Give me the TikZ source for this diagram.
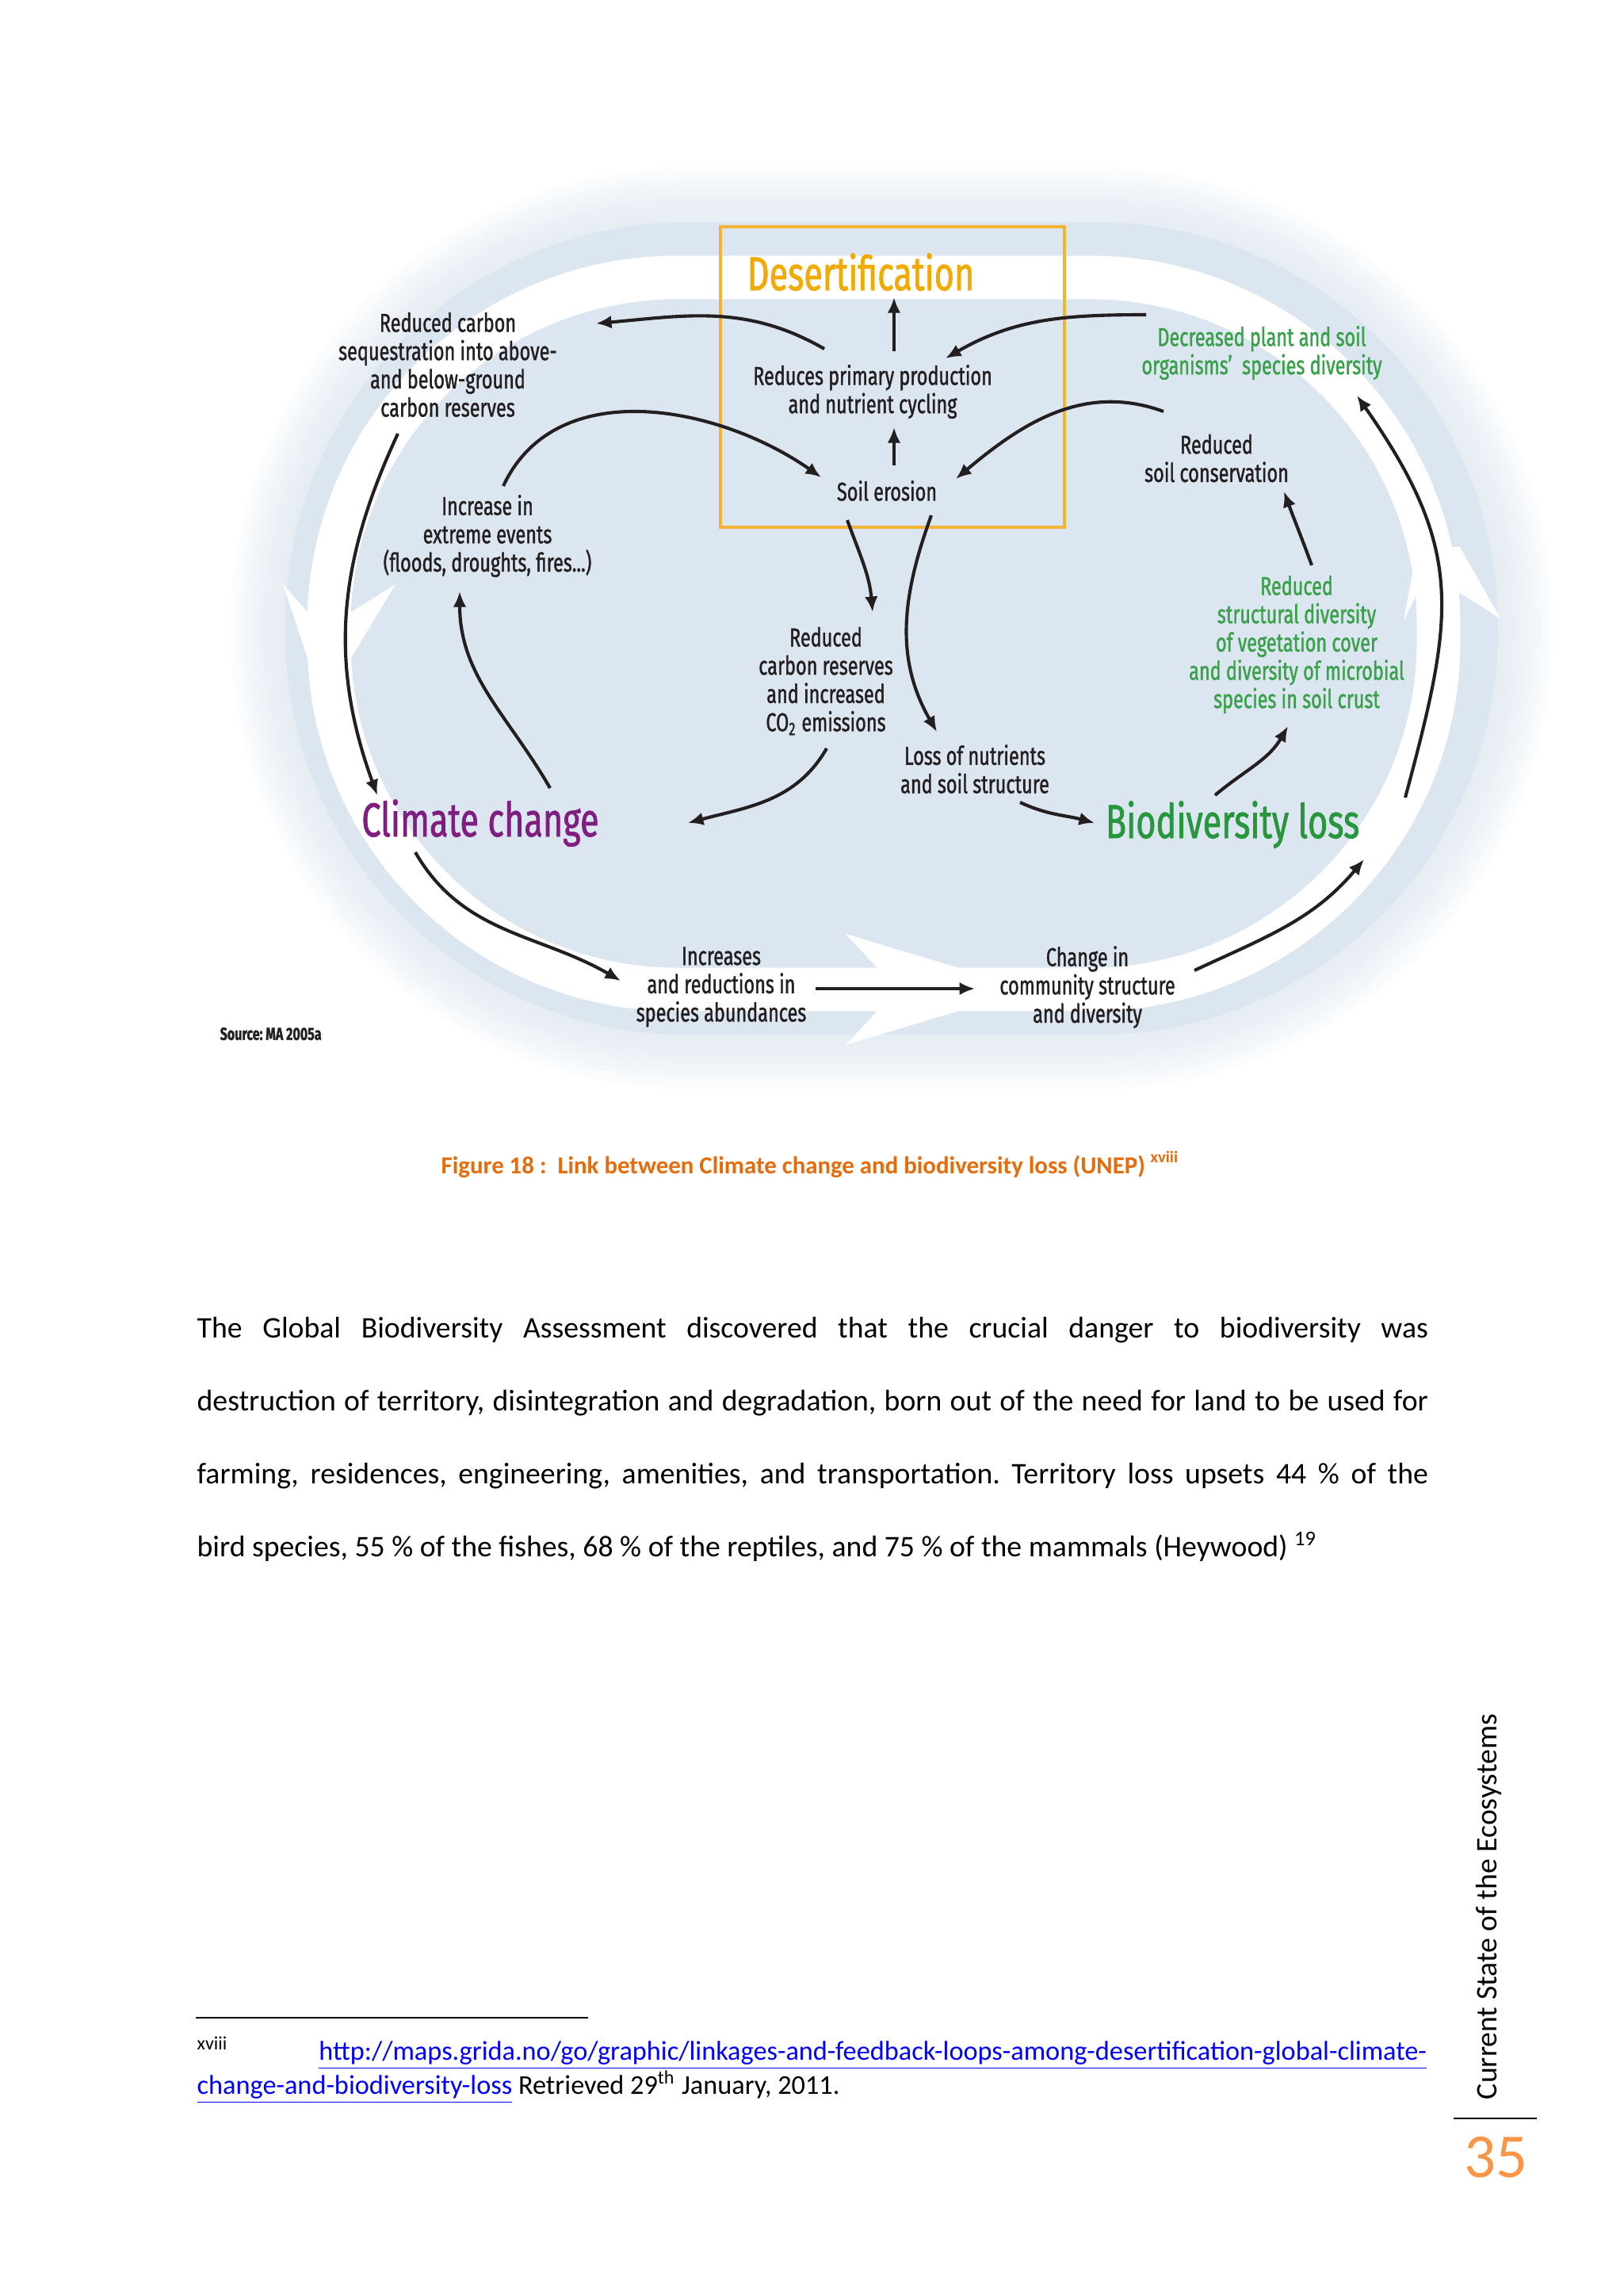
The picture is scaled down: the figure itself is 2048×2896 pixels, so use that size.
\documentclass[tikz,border=0pt]{standalone}
\usepackage{fontspec}
\setmainfont{Carlito}
\newfontfamily\figfont[FakeStretch=0.72,FakeBold=1.2]{Fira Sans}
\usetikzlibrary{calc,arrows.meta}
\frenchspacing

\definecolor{figink}{RGB}{35,31,32}
\definecolor{figgreen}{RGB}{58,160,75}
\definecolor{biogreen}{RGB}{40,150,60}
\definecolor{climpurple}{RGB}{128,30,128}
\definecolor{desertgold}{RGB}{240,170,0}
\definecolor{boxgold}{RGB}{242,180,50}
\definecolor{blobblue}{RGB}{220,230,241}
\definecolor{captionorange}{RGB}{228,108,10}
\definecolor{pageorange}{RGB}{247,150,70}
\definecolor{linkblue}{RGB}{0,0,255}

\tikzset{
  lbl/.style={font=\figfont\fontsize{9.5}{10.4}\selectfont, text=figink, align=center, inner sep=0pt},
  greenlbl/.style={lbl, text=figgreen},
  bigname/.style={font=\figfont\fontsize{17.5}{20}\selectfont, inner sep=0pt},
  arr/.style={-{Latex[length=2mm,width=1.7mm]}, line width=1.2pt, figink},
  band/.style={white, line width=16pt},
  chevron/.style={fill=white, draw=none},
  bodyline/.style={font=\fontsize{11}{13}\selectfont, anchor=base west, inner sep=0pt},
}

\begin{document}
\begin{tikzpicture}[x=0.1025mm, y=0.1025mm]
    \fill[white] (0,0) rectangle (2048,-2896);
    \useasboundingbox (0,0) rectangle (2048,-2896);

    % soft blue blob behind the loops
    \foreach \w in {4,8,...,40}
        \draw[blobblue, opacity=0.09, line width=\w pt, rounded corners=52mm] (360,-280) rectangle (1890,-1305);
    \fill[blobblue, rounded corners=52mm] (360,-280) rectangle (1890,-1305);

    % white loop band and its arrow heads
    \draw[band, rounded corners=45mm] (415,-350) rectangle (1815,-1248);
    \fill[chevron] (357,-737) -- (388,-772) -- (443,-772) -- (499,-737) -- (443,-830) -- (388,-830) -- cycle;
    \fill[chevron] (1067,-1178) -- (1107,-1221) -- (1107,-1275) -- (1067,-1318) -- (1210,-1275) -- (1210,-1221) -- cycle;
    \fill[chevron] (1771,-783) -- (1788,-748) -- (1842,-748) -- (1893,-780) -- (1842,-690) -- (1788,-690) -- cycle;

    % desertification box
    \draw[boxgold, line width=1pt] (909,-286) rectangle (1343,-665);

    % labels
    \node[bigname, text=desertgold] (desert) at (1086,-343) {Desertification};
    \node[lbl] (primary) at (1101,-494) {Reduces primary production\\and nutrient cycling};
    \node[lbl] (erosion) at (1119,-619) {Soil erosion};
    \node[lbl] (seqcarbon) at (565,-460) {Reduced carbon\\sequestration into above-\\and below-ground\\carbon reserves};
    \node[greenlbl] (plantdiv) at (1592,-445) {Decreased plant and soil\\organisms’\ \ species diversity};
    \node[lbl] (soilcons) at (1535,-578) {Reduced\\soil conservation};
    \node[lbl] (extreme) at (615,-676) {Increase in\\extreme events\\(floods, droughts, fires...)};
    \node[bigname, text=climpurple] (climate) at (606,-1038) {Climate change};
    \node[lbl] (carbres) at (1042,-859) {Reduced\\carbon reserves\\and increased\\CO\textsubscript{2} emissions};
    \node[lbl] (nutrients) at (1230,-970) {Loss of nutrients\\and soil structure};
    \node[bigname, text=biogreen] (biodiv) at (1555,-1040) {Biodiversity loss};
    \node[greenlbl] (structdiv) at (1636,-813) {Reduced\\structural diversity\\of vegetation cover\\and diversity of microbial\\species in soil crust};
    \node[lbl] (abund) at (910,-1245) {Increases\\and reductions in\\species abundances};
    \node[lbl] (commun) at (1372,-1245) {Change in\\community structure\\and diversity};
    \node[lbl, font=\figfont\bfseries\fontsize{6.5}{8}\selectfont, anchor=west] (source) at (277,-1304) {Source: MA 2005a};

    % links
    \draw[arr] ($(primary)+(27,51)$) -- ($(desert)+(42,-32)$);
    \draw[arr] ($(erosion)+(9,32)$) -- ($(primary)+(27,-45)$);
    \draw[arr] ($(primary)+(-61,54)$) to[out=150,in=5] ($(seqcarbon)+(187,52)$);
    \draw[arr] ($(plantdiv)+(-146,48)$) to[out=180,in=30] ($(primary)+(92,42)$);
    \draw[arr] ($(soilcons)+(-67,59)$) to[out=160,in=40] ($(erosion)+(87,15)$);
    \draw[arr] ($(extreme)+(20,63)$) to[out=65,in=145] ($(erosion)+(-83,17)$);
    \draw[arr] ($(climate)+(88,44)$) to[out=120,in=-90] ($(extreme)+(-35,-70)$);
    \draw[arr] ($(seqcarbon)+(-63,-87)$) to[out=-115,in=110] ($(climate)+(-130,35)$);
    \draw[arr] ($(erosion)+(-50,-37)$) to[out=-70,in=95] ($(carbres)+(59,87)$);
    \draw[arr] ($(carbres)+(1,-85)$) to[out=-120,in=15] ($(climate)+(262,0)$);
    \draw[arr] ($(erosion)+(56,-31)$) to[out=-110,in=120] ($(nutrients)+(-48,47)$);
    \draw[arr] ($(nutrients)+(57,-42)$) to[out=-25,in=165] ($(biodiv)+(-174,2)$);
    \draw[arr] ($(biodiv)+(-22,37)$) to[out=40,in=240] ($(structdiv)+(-11,-103)$);
    \draw[arr] ($(structdiv)+(19,100)$) to[out=110,in=-70] ($(soilcons)+(85,-42)$);
    \draw[arr] ($(biodiv)+(218,34)$) to[out=75,in=-55,looseness=1.2] ($(plantdiv)+(120,-54)$);
    \draw[arr] ($(climate)+(-82,-37)$) to[out=-60,in=150] ($(abund)+(-127,8)$);
    \draw[arr] ($(abund)+(119,-2)$) -- ($(commun)+(-142,-2)$);
    \draw[arr] ($(commun)+(135,21)$) to[out=25,in=230] ($(biodiv)+(166,-44)$);

    % caption and body text
    \node[bodyline, font=\bfseries\fontsize{9}{11}\selectfont, text=captionorange] (caption) at (556,-1480)
        {Figure 18 :\ \ Link between Climate change and biodiversity loss (UNEP) \textsuperscript{xviii}};
    \foreach \txt [count=\i] in {
        {The Global Biodiversity Assessment discovered that the crucial danger to biodiversity was},
        {destruction of territory, disintegration and degradation, born out of the need for land to be used for},
        {farming, residences, engineering, amenities, and transportation. Territory loss upsets 44 \% of the}}
        \node[bodyline] (body\i) at (248,{-1687-92*(\i-1)}) {\makebox[159.2mm][s]{\txt}};
    \node[bodyline] (body4) at (248,-1963)
        {bird species, 55 \% of the fishes, 68 \% of the reptiles, and 75 \% of the mammals (Heywood) \textsuperscript{19}};

    % footnote
    \draw[line width=0.5pt] (247,-2545) -- (742,-2545);
    \node[bodyline, font=\fontsize{10}{12}\selectfont] (fnmark) at (248,-2598) {\textsuperscript{xviii}};
    \node[bodyline, font=\fontsize{10}{12}\selectfont, anchor=base east, text=linkblue] (fnurl) at (1801,-2598)
        {\underline{http://maps.grida.no/go/graphic/linkages-and-feedback-loops-among-desertification-global-climate-}};
    \node[bodyline, font=\fontsize{10}{12}\selectfont] (fnrest) at (248,-2641)
        {{\color{linkblue}\underline{change-and-biodiversity-loss}} Retrieved 29\textsuperscript{th} January, 2011.};

    % running head and page number
    \node[rotate=90, font=\fontsize{11}{13}\selectfont, inner sep=0pt] (runhead) at (1878,-2405) {Current State of the Ecosystems};
    \draw[line width=0.6pt] (1834,-2672) -- (1939,-2672);
    \node[font=\fontsize{23}{26}\selectfont, text=pageorange, inner sep=0pt] (pagenum) at (1887,-2721) {35};
\end{tikzpicture}
\end{document}
